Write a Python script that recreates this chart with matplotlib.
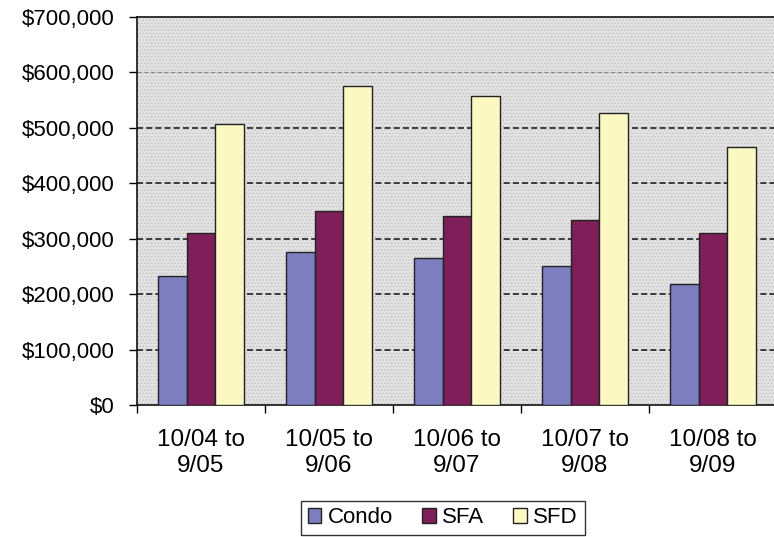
import numpy as np
import matplotlib.pyplot as plt
from matplotlib.patches import Rectangle

plt.rcParams['font.family'] = ['Liberation Sans', 'DejaVu Sans']
plt.rcParams['hatch.color'] = '#bababa'
plt.rcParams['hatch.linewidth'] = 0.6

periods = ['10/04 to\n9/05', '10/05 to\n9/06', '10/06 to\n9/07', '10/07 to\n9/08', '10/08 to\n9/09']
condo = [233000, 276000, 265000, 251000, 218000]
sfa = [310000, 350000, 341000, 334000, 311000]
sfd = [507000, 575000, 557000, 527000, 465000]

series = [('Condo', condo, '#7b7fbf'), ('SFA', sfa, '#7f1f5a'), ('SFD', sfd, '#fbf8c2')]

fig = plt.figure(figsize=(7.74, 5.37), dpi=100)
ax = fig.add_axes([137 / 774, 1 - 405 / 537, 640 / 774, 388 / 537])

# dotted grey plot area
ax.set_facecolor('white')
ax.add_patch(Rectangle((0, 0), 1, 1, transform=ax.transAxes, facecolor='#e2e2e2',
                       hatch='.....', edgecolor='#c0c0c0', linewidth=0, zorder=0))

x = np.arange(len(periods))
w = 0.226
for i, (name, vals, col) in enumerate(series):
    ax.bar(x + (i - 1) * w, vals, w, color=col, edgecolor='#222222', linewidth=1.0,
           label=name, zorder=3)

ax.set_xlim(-0.5, len(periods) - 0.5)
ax.set_ylim(0, 700000)
yt = np.arange(0, 700001, 100000)
ax.set_yticks(yt)
ax.set_yticklabels(['${:,.0f}'.format(v) for v in yt], fontsize=16)

for v in yt[1:-1]:
    if v == 600000:
        ax.axhline(v, color='#888888', linestyle=(0, (4, 2)), linewidth=0.8, zorder=1)
    else:
        ax.axhline(v, color='#111111', linestyle=(0, (4, 2)), linewidth=1.1, zorder=1)

ax.set_xticks(x)
ax.set_xticklabels(periods, fontsize=17.5, linespacing=1.25)
ax.set_xticks(np.arange(-0.5, len(periods), 1), minor=True)
ax.tick_params(axis='x', which='major', length=0, pad=17)
ax.tick_params(axis='x', which='minor', length=6, width=1, direction='out')
ax.tick_params(axis='y', length=6, width=1, direction='out', pad=10)

for s in ['left', 'bottom', 'top']:
    ax.spines[s].set_color('#111111')
    ax.spines[s].set_linewidth(1.2)
ax.spines['right'].set_visible(False)

leg = fig.legend(loc='lower center', bbox_to_anchor=(443 / 774, 2 / 537), ncol=3,
                 fontsize=16, frameon=True, fancybox=False, edgecolor='black',
                 handlelength=0.6, handleheight=0.6, handletextpad=0.3,
                 columnspacing=1.3, borderpad=0.3, borderaxespad=0)
leg.get_frame().set_linewidth(1.0)

fig.savefig('out.png', dpi=100)
